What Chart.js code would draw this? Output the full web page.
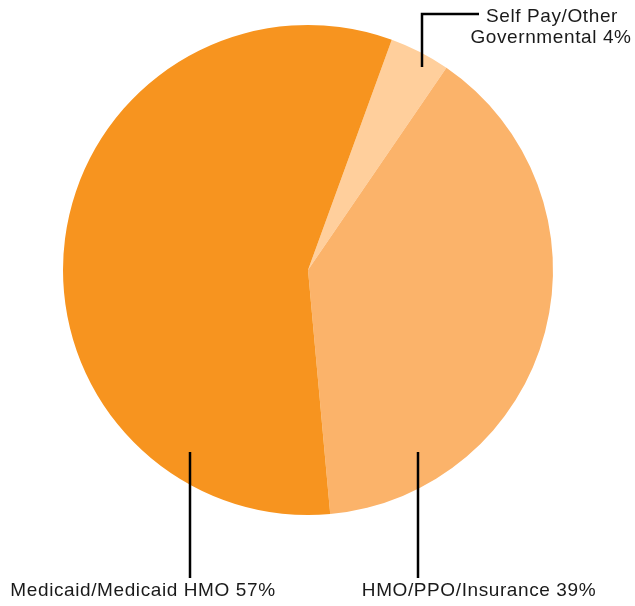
<!DOCTYPE html>
<html>
<head>
<meta charset="utf-8">
<script src="https://cdn.jsdelivr.net/npm/chart.js@4/dist/chart.umd.min.js"></script>
<style>
  html, body { margin: 0; padding: 0; background: #fff; }
  #wrap { width: 635px; height: 606px; position: relative; }
</style>
</head>
<body>
<div id="wrap"><canvas id="payerChart"></canvas></div>
<script>
// Payer mix (percent)
var categories = ['Self Pay/Other Governmental', 'HMO/PPO/Insurance', 'Medicaid/Medicaid HMO'];
var shares = [4, 39, 57];
var sliceColors = ['#FFCF9C', '#FBB36A', '#F7941F'];
var labelLines = [['Self Pay/Other', 'Governmental 4%'], ['HMO/PPO/Insurance 39%'], ['Medicaid/Medicaid HMO 57%']];

// Labels with leader lines
var calloutPlugin = {
    id: 'callouts',
    afterDraw: function (chart) {
        var c = chart.ctx;
        c.save();
        c.strokeStyle = '#000';
        c.lineWidth = 2.5;
        c.fillStyle = '#1a1a1a';
        c.font = '19px "Liberation Sans", Arial, sans-serif';
        c.letterSpacing = '0.6px';
        c.textAlign = 'center';
        c.textBaseline = 'middle';

        // self pay
        c.beginPath();
        c.moveTo(479, 14);
        c.lineTo(422, 14);
        c.lineTo(422, 67);
        c.stroke();
        c.fillText(labelLines[0][0], 552, 17);
        c.fillText(labelLines[0][1], 551, 38);

        // hmo
        c.beginPath();
        c.moveTo(418, 452);
        c.lineTo(418, 578);
        c.stroke();
        c.fillText(labelLines[1][0], 479, 591);

        // medicaid
        c.beginPath();
        c.moveTo(190, 452);
        c.lineTo(190, 578);
        c.stroke();
        c.fillText(labelLines[2][0], 143, 591);
        c.restore();
    }
};

var ctx = document.getElementById('payerChart').getContext('2d');
var payerChart = new Chart(ctx, {
    type: 'pie',
    data: {
        labels: categories,
        datasets: [{
            data: shares,
            backgroundColor: sliceColors,
            borderWidth: 0
        }]
    },
    options: {
        responsive: true,
        maintainAspectRatio: false,
        animation: false,
        rotation: 20,
        layout: {
            padding: { left: 63, right: 82, top: 24, bottom: 90 }
        },
        plugins: {
            legend: { display: false },
            tooltip: { enabled: false }
        }
    },
    plugins: [calloutPlugin]
});
</script>
</body>
</html>
